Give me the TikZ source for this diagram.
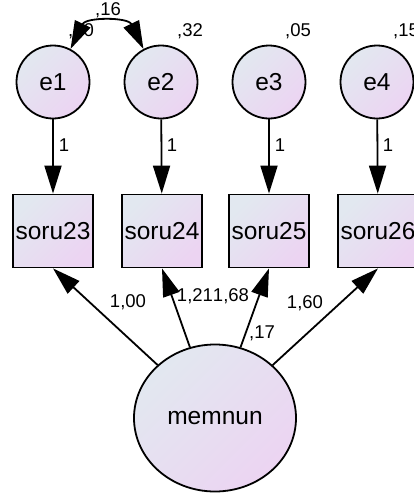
\documentclass[tikz,border=0pt]{standalone}
\usepackage{fontspec}
\setmainfont{Liberation Sans}
\usetikzlibrary{arrows.meta,shapes.geometric}
\definecolor{gA}{RGB}{226,232,240}
\definecolor{gB}{RGB}{236,212,242}
\tikzset{
  fillgrad/.style={left color=gA, right color=gB, shading angle=45},
  errnode/.style={circle, draw=black, line width=1.8pt, fillgrad, minimum size=73pt, inner sep=0pt, font=\fontsize{24.5}{24.5}\selectfont},
  obsnode/.style={rectangle, draw=black, line width=1.8pt, fillgrad, minimum width=80pt, minimum height=73pt, inner sep=0pt, font=\fontsize{24.5}{24.5}\selectfont},
  latnode/.style={ellipse, draw=black, line width=1.8pt, fillgrad, minimum width=162pt, minimum height=147pt, inner sep=0pt, font=\fontsize{24.5}{24.5}\selectfont},
  arr/.style={line width=1.8pt, -{Triangle[length=28pt,width=17pt]}},
  dblarr/.style={line width=1.8pt, {Triangle[length=28pt,width=17pt]}-{Triangle[length=28pt,width=17pt]}},
  lbl/.style={font=\fontsize{18.5}{18.5}\selectfont, inner sep=0pt}
}
\begin{document}
\begin{tikzpicture}[x=1pt,y=-1pt]
\useasboundingbox (0,0) rectangle (414,499);
% error terms
\node[errnode] (e1) at (53,82) {e1};
\node[errnode] (e2) at (161,82) {e2};
\node[errnode] (e3) at (269,82) {e3};
\node[errnode] (e4) at (377,82) {e4};
% observed
\node[obsnode] (s23) at (53,231) {soru23};
\node[obsnode] (s24) at (162,231) {soru24};
\node[obsnode] (s25) at (269,231) {soru25};
\node[obsnode] (s26) at (378,231) {soru26};
% latent
\node[latnode] (mem) at (215,418) {memnun};
% error arrows
\draw[arr] (e1) -- (s23);
\draw[arr] (e2) -- (s24);
\draw[arr] (e3) -- (s25);
\draw[arr] (e4) -- (s26);
% loadings
\draw[arr] (mem) -- (s23.south);
\draw[arr] (mem) -- (s24.south);
\draw[arr] (mem) -- (s25.south);
\draw[arr] (mem) -- (s26.south);
% covariance
\draw[dblarr] (e1.62) .. controls (86,17) and (128,17) .. (e2.118);
% labels
\node[lbl] (l1) at (64,145) {1};
\node[lbl] (l2) at (172,145) {1};
\node[lbl] (l3) at (280,145) {1};
\node[lbl] (l4) at (388,145) {1};
\node[lbl] (v1) at (81,31) {,10};
\node[lbl] (v2) at (190,31) {,32};
\node[lbl] (v3) at (298,31) {,05};
\node[lbl] (v4) at (406,31) {,15};
\node[lbl] (c12) at (108,10) {,16};
\node[lbl] (w1) at (128,302) {1,00};
\node[lbl] (w2) at (195,296) {1,21};
\node[lbl] (w3) at (231,296) {1,68};
\node[lbl] (w4) at (305,303) {1,60};
\node[lbl] (vm) at (262,333) {,17};
\end{tikzpicture}
\end{document}
